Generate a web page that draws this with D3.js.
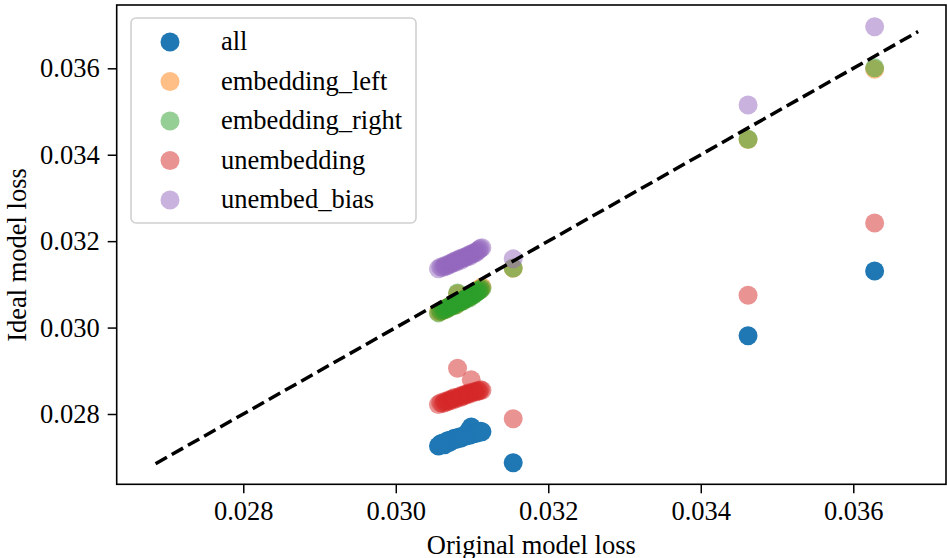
<!DOCTYPE html>
<html>
<head>
<meta charset="utf-8">
<script src="https://cdn.jsdelivr.net/npm/d3@7"></script>
<style>
  body { margin: 0; background: #fff; }
  svg { display: block; font-family: "Liberation Serif", "Times New Roman", serif; }
</style>
</head>
<body>
<div id="grafica"></div>
<script>
// original loss (shared x for every series)
const original = [0.03056, 0.03059, 0.03062, 0.03064, 0.03066, 0.03068, 0.03070, 0.03072, 0.03074, 0.03076,
  0.03077, 0.03079, 0.03081, 0.03083, 0.03085, 0.03086, 0.03088, 0.03090, 0.03092, 0.03094,
  0.03096, 0.03097, 0.03099, 0.03101, 0.03103, 0.03105, 0.03107, 0.03109, 0.03111, 0.03113,
  0.03154, 0.03462, 0.03628];

const idealAll = [0.02726, 0.02731, 0.02733, 0.02729, 0.02735, 0.02738, 0.02734, 0.02740, 0.02739, 0.02742,
  0.02744, 0.02741, 0.02745, 0.02746, 0.02744, 0.02748, 0.02747, 0.02750, 0.02749, 0.02752,
  0.02762, 0.02751, 0.02770, 0.02754, 0.02756, 0.02755, 0.02758, 0.02757, 0.02760, 0.02759,
  0.02687, 0.02981, 0.03131];

const idealEmbLeft = [0.03036, 0.03037, 0.03041, 0.03042, 0.03044, 0.03045, 0.03049, 0.03049, 0.03051, 0.03052,
  0.03056, 0.03053, 0.03078, 0.03059, 0.03061, 0.03061, 0.03063, 0.03066, 0.03068, 0.03070,
  0.03070, 0.03073, 0.03077, 0.03076, 0.03080, 0.03082, 0.03085, 0.03086, 0.03090, 0.03094,
  0.03137, 0.03435, 0.03598];

const idealEmbRight = [0.03034, 0.03038, 0.03040, 0.03043, 0.03042, 0.03046, 0.03048, 0.03050, 0.03049, 0.03053,
  0.03055, 0.03052, 0.03080, 0.03058, 0.03060, 0.03062, 0.03061, 0.03065, 0.03067, 0.03069,
  0.03068, 0.03072, 0.03075, 0.03074, 0.03078, 0.03080, 0.03083, 0.03085, 0.03088, 0.03091,
  0.03138, 0.03436, 0.03601];

const idealUnemb = [0.02822, 0.02826, 0.02824, 0.02829, 0.02827, 0.02831, 0.02830, 0.02834, 0.02832, 0.02836,
  0.02838, 0.02835, 0.02906, 0.02840, 0.02838, 0.02843, 0.02841, 0.02845, 0.02844, 0.02847,
  0.02849, 0.02846, 0.02879, 0.02850, 0.02852, 0.02851, 0.02854, 0.02853, 0.02856, 0.02855,
  0.02789, 0.03075, 0.03242];

const idealBias = [0.03136, 0.03140, 0.03139, 0.03143, 0.03142, 0.03146, 0.03145, 0.03149, 0.03148, 0.03152,
  0.03154, 0.03151, 0.03156, 0.03158, 0.03155, 0.03161, 0.03160, 0.03163, 0.03162, 0.03166,
  0.03168, 0.03165, 0.03171, 0.03170, 0.03174, 0.03173, 0.03177, 0.03180, 0.03183, 0.03185,
  0.03159, 0.03515, 0.03696];

const nombres = ['all', 'embedding_left', 'embedding_right', 'unembedding', 'unembed_bias'];
const colores = ['#1f77b4', '#ff7f0e', '#2ca02c', '#d62728', '#9467bd'];
const opacidades = [1, 0.5, 0.5, 0.5, 0.5];
const series = [idealAll, idealEmbLeft, idealEmbRight, idealUnemb, idealBias];

const ticks = [0.028, 0.030, 0.032, 0.034, 0.036];
const diagonal = [0.02685, 0.03685];

const w = 947, h = 558;
const izq = 116.7, der = 946, arriba = 5, abajo = 484.3;
const fuente = 26.5;

const svg = d3.select('#grafica').append('svg')
  .attr('width', w)
  .attr('height', h);

const xScale = d3.scaleLinear().domain([0.02634, 0.037216]).range([izq, der]);
const yScale = d3.scaleLinear().domain([0.026373, 0.037465]).range([abajo, arriba]);

// puntos
series.forEach((ideal, s) => {
  svg.append('g')
    .selectAll('circle')
    .data(original)
    .enter()
    .append('circle')
    .attr('cx', d => xScale(d))
    .attr('cy', (d, i) => yScale(ideal[i]))
    .attr('r', 9.5)
    .attr('fill', colores[s])
    .attr('fill-opacity', opacidades[s]);
});

// linea y = x
svg.append('line')
  .attr('x1', xScale(diagonal[0])).attr('y1', yScale(diagonal[0]))
  .attr('x2', xScale(diagonal[1])).attr('y2', yScale(diagonal[1]))
  .attr('stroke', '#000')
  .attr('stroke-width', 3.5)
  .attr('stroke-dasharray', '13,5.6');

// ejes
const xAxis = d3.axisBottom(xScale).tickValues(ticks).tickFormat(d3.format('.3f')).tickSize(9).tickPadding(8);
const yAxis = d3.axisLeft(yScale).tickValues(ticks).tickFormat(d3.format('.3f')).tickSize(9).tickPadding(8);

const gx = svg.append('g').attr('transform', 'translate(0,' + abajo + ')').call(xAxis);
const gy = svg.append('g').attr('transform', 'translate(' + izq + ',0)').call(yAxis);

[gx, gy].forEach(g => {
  g.select('.domain').remove();
  g.selectAll('line').attr('stroke', '#000').attr('stroke-width', 1.5);
  g.selectAll('text').attr('font-size', fuente).attr('fill', '#000')
    .style('font-family', '"Liberation Serif", serif');
});

svg.append('rect')
  .attr('x', izq).attr('y', arriba)
  .attr('width', der - izq).attr('height', abajo - arriba)
  .attr('fill', 'none')
  .attr('stroke', '#000')
  .attr('stroke-width', 1.6);

svg.append('text')
  .attr('x', (izq + der) / 2)
  .attr('y', 554)
  .attr('text-anchor', 'middle')
  .attr('font-size', fuente)
  .text('Original model loss');

svg.append('text')
  .attr('transform', 'translate(26,255) rotate(-90)')
  .attr('text-anchor', 'middle')
  .attr('font-size', fuente)
  .text('Ideal model loss');

// leyenda
const leyenda = svg.append('g');
leyenda.append('rect')
  .attr('x', 131).attr('y', 18)
  .attr('width', 285).attr('height', 205)
  .attr('rx', 5)
  .attr('fill', '#fff').attr('fill-opacity', 0.8)
  .attr('stroke', '#d0d0d0').attr('stroke-width', 1.6);

nombres.forEach((n, i) => {
  const yy = 42 + i * 39.5;
  leyenda.append('circle')
    .attr('cx', 170).attr('cy', yy).attr('r', 9.5)
    .attr('fill', colores[i]).attr('fill-opacity', opacidades[i]);
  leyenda.append('text')
    .attr('x', 221).attr('y', yy + 8)
    .attr('font-size', fuente)
    .text(n);
});
</script>
</body>
</html>
